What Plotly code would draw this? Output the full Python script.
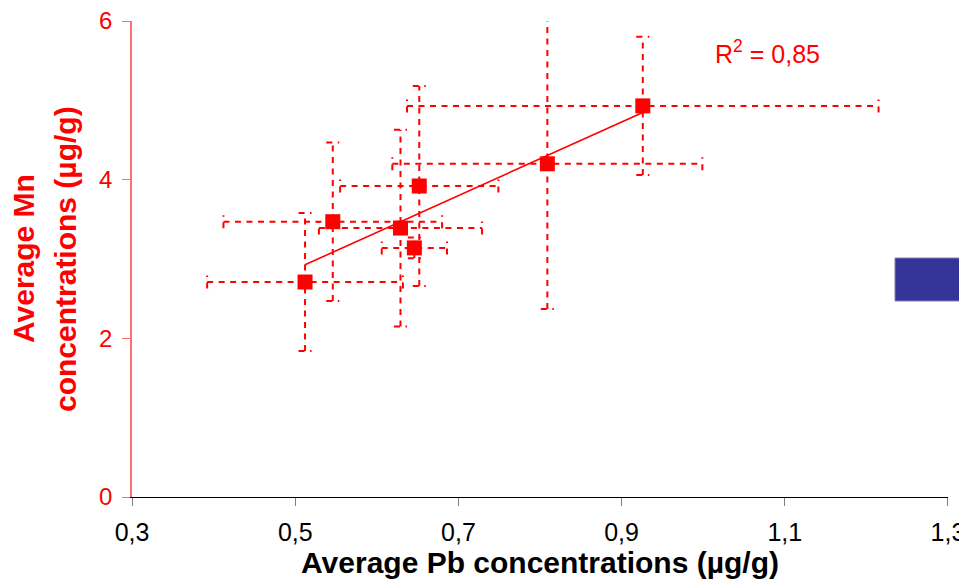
import numpy as np
import plotly.graph_objects as go

# ---- data ----
pb_mean = [0.512, 0.546, 0.629, 0.646, 0.652, 0.809, 0.926]
mn_mean = [2.71, 3.47, 3.39, 3.14, 3.92, 4.20, 4.93]
pb_err = [0.12, 0.134, 0.10, 0.04, 0.097, 0.19, 0.289]
mn_err = [0.87, 1.00, 1.24, 0.13, 1.26, 1.83, 0.87]

x_tick_vals = [0.3, 0.5, 0.7, 0.9, 1.1, 1.3]
x_tick_text = ["0,3", "0,5", "0,7", "0,9", "1,1", "1,3"]
y_tick_vals = [0, 2, 4, 6]
y_tick_text = ["0", "2", "4", "6"]
r2_text = "R<sup>2</sup> = 0,85"

x_title = "Average Pb concentrations (µg/g)"
y_title_lines = ["Average Mn", "concentrations (µg/g)"]

# ---- layout geometry (page body has an 8px margin) ----
OFF = 8
W, H = 967 - OFF, 587 - OFF
ML, MT = 132 - OFF, 21 - OFF
PW, PH = 816, 476
MR, MB = W - ML - PW, H - MT - PH
x_range = [0.2999, 1.3001]
y_range = [0, 6]
RED = "#FF0000"
cap_px = 6.5
cx = cap_px * (x_range[1] - x_range[0]) / PW
cy = cap_px * (y_range[1] - y_range[0]) / PH

# build dashed error-bar paths from the data
vx, vy, hx, hy = [], [], [], []
for x, y, ex, ey in zip(pb_mean, mn_mean, pb_err, mn_err):
    vx += [x, x, None, x - cx, x + cx, None, x - cx, x + cx, None]
    vy += [y - ey, y + ey, None, y + ey, y + ey, None, y - ey, y - ey, None]
    hx += [x - ex, x + ex, None, x - ex, x - ex, None, x + ex, x + ex, None]
    hy += [y, y, None, y - cy, y + cy, None, y - cy, y + cy, None]

dash_style = dict(color=RED, width=2, dash="6px,5.5px")

fig = go.Figure()
fig.add_trace(go.Scatter(x=vx, y=vy, mode="lines", line=dash_style,
                         hoverinfo="skip", showlegend=False, connectgaps=False))
fig.add_trace(go.Scatter(x=hx, y=hy, mode="lines", line=dash_style,
                         hoverinfo="skip", showlegend=False, connectgaps=False))

# linear trend line
b, a = np.polyfit(pb_mean, mn_mean, 1)
tx = [min(pb_mean), max(pb_mean)]
ty = [a + b * v for v in tx]
fig.add_trace(go.Scatter(x=tx, y=ty, mode="lines",
                         line=dict(color=RED, width=1.6),
                         hoverinfo="skip", showlegend=False))

fig.add_trace(go.Scatter(x=pb_mean, y=mn_mean, mode="markers",
                         marker=dict(symbol="square", size=15, color=RED,
                                     line=dict(width=0)),
                         showlegend=False))

font_family = "Liberation Sans, Arial, sans-serif"

def px_x(p):
    """page pixel x -> paper coordinate"""
    return (p - OFF - ML) / PW

def px_y(p):
    """page pixel y -> paper coordinate"""
    return (MT + PH - (p - OFF)) / PH

fig.update_layout(
    width=W, height=H,
    margin=dict(l=ML, r=MR, t=MT, b=MB, pad=0),
    paper_bgcolor="white", plot_bgcolor="white",
    font=dict(family=font_family),
    showlegend=False,
    xaxis=dict(
        range=x_range, tickvals=x_tick_vals, ticktext=x_tick_text,
        showgrid=False, zeroline=False,
        showline=True, linecolor="black", linewidth=1,
        ticks="outside", ticklen=8, tickcolor="#808080", tickwidth=1,
        tickfont=dict(size=25, color="black", family=font_family),
        ticklabelstandoff=5, ticklabeloverflow="allow",
        title=dict(text=x_title, standoff=6,
                   font=dict(size=30, color="black", family=font_family, weight="bold")),
        automargin=False,
    ),
    yaxis=dict(
        range=y_range, tickvals=y_tick_vals, ticktext=y_tick_text,
        showgrid=False, zeroline=False,
        showline=True, linecolor="#FF7070", linewidth=1.5,
        ticks="outside", ticklen=8, tickcolor="#FF7070", tickwidth=1,
        tickfont=dict(size=24, color=RED, family=font_family),
        ticklabelstandoff=5, ticklabeloverflow="allow",
        automargin=False,
    ),
    annotations=[
        dict(text=y_title_lines[0], xref="paper", yref="paper",
             x=px_x(23), y=0.5, xanchor="center", yanchor="middle",
             textangle=-90, showarrow=False,
             font=dict(size=30, color=RED, family=font_family, weight="bold")),
        dict(text=y_title_lines[1], xref="paper", yref="paper",
             x=px_x(65), y=0.5, xanchor="center", yanchor="middle",
             textangle=-90, showarrow=False,
             font=dict(size=30, color=RED, family=font_family, weight="bold")),
        dict(text=r2_text, xref="x", yref="y", x=1.079, y=5.61,
             xanchor="center", yanchor="middle", showarrow=False,
             font=dict(size=25, color=RED, family=font_family)),
    ],
    shapes=[
        dict(type="rect", xref="paper", yref="paper",
             x0=px_x(895), x1=px_x(990),
             y0=px_y(301), y1=px_y(258),
             fillcolor="#333399", line=dict(color="#8080B0", width=1),
             layer="above"),
    ],
)

fig.write_html("out.html")
